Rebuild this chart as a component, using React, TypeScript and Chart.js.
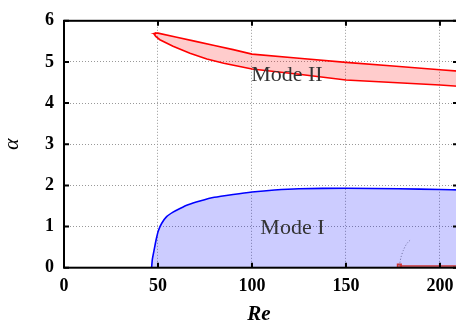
import React, { useEffect, useRef } from 'react';
import { Chart, registerables } from 'chart.js';
Chart.register(...registerables);

const X_MIN = 0;
const X_MAX = 209.6;
const Y_MIN = 0;
const Y_MAX = 6;
const xTicks = [0, 50, 100, 150, 200];
const yTicks = [0, 1, 2, 3, 4, 5, 6];

// Mode II closed boundary (upper branch left->right, lower branch right->left)
const modeIIRe = [49.0, 48.4, 50, 60, 70, 80, 90, 100, 125, 150, 175, 200, 212,
  212, 200, 175, 150, 138, 125, 100, 85, 76, 67, 58, 51, 48.8, 48.2, 48.4, 49.0];
const modeIIAlpha = [5.71, 5.70, 5.70, 5.60, 5.50, 5.40, 5.30, 5.19, 5.09, 4.99, 4.90, 4.81, 4.77,
  4.40, 4.44, 4.50, 4.56, 4.63, 4.70, 4.83, 4.97, 5.07, 5.21, 5.38, 5.54, 5.62, 5.66, 5.70, 5.71];

// Mode I neutral curve
const modeIRe = [46.6, 47.0, 47.9, 49.0, 50.2, 52, 54.6, 58, 61.7, 66, 72.3, 80, 90, 100, 112, 125, 150, 178, 200, 212];
const modeIAlpha = [0, 0.2, 0.42, 0.68, 0.9, 1.08, 1.24, 1.35, 1.44, 1.53, 1.62, 1.71, 1.78, 1.84, 1.89, 1.92, 1.93, 1.92, 1.90, 1.89];

// Orange branch along alpha ~ 0
const branchRe = [178.4, 212];
const branchAlpha = [0.04, 0.04];

// Dotted gray curve
const dottedRe = [178.4, 178.8, 179.3, 180.5, 182.3, 184.6];
const dottedAlpha = [0.05, 0.15, 0.26, 0.42, 0.58, 0.69];

const labels = [
  { text: 'Mode II', re: 118.6, alpha: 4.67 },
  { text: 'Mode I', re: 121.5, alpha: 0.96 },
];

const toPts = (xs: number[], ys: number[]) => xs.map((x, i) => ({ x, y: ys[i] }));

const framePlugin = {
  id: 'frame',
  afterDatasetsDraw(chart: any) {
    const { ctx, chartArea: a, scales } = chart;
    ctx.save();
    ctx.strokeStyle = '#000';
    ctx.lineWidth = 2;
    ctx.strokeRect(a.left, a.top, a.right - a.left, a.bottom - a.top);
    const tl = 5;
    ctx.beginPath();
    for (const v of xTicks) {
      const x = scales.x.getPixelForValue(v);
      ctx.moveTo(x, a.bottom); ctx.lineTo(x, a.bottom - tl);
      ctx.moveTo(x, a.top); ctx.lineTo(x, a.top + tl);
    }
    for (const v of yTicks) {
      const y = scales.y.getPixelForValue(v);
      ctx.moveTo(a.left, y); ctx.lineTo(a.left + tl, y);
      ctx.moveTo(a.right, y); ctx.lineTo(a.right - tl, y);
    }
    ctx.stroke();

    ctx.fillStyle = '#333';
    ctx.font = '22px "Liberation Serif"';
    ctx.textAlign = 'center';
    ctx.textBaseline = 'middle';
    for (const l of labels) {
      ctx.fillText(l.text, scales.x.getPixelForValue(l.re), scales.y.getPixelForValue(l.alpha));
    }

    ctx.fillStyle = '#000';
    ctx.font = 'italic bold 21px "Liberation Serif"';
    ctx.fillText('Re', (a.left + a.right) / 2 - 2, 315);
    ctx.save();
    ctx.translate(12, (a.top + a.bottom) / 2);
    ctx.rotate(-Math.PI / 2);
    ctx.font = 'italic 22px "Liberation Serif"';
    ctx.fillText('α', 0, 0);
    ctx.restore();
    ctx.restore();
  },
};

export default function App() {
  const ref = useRef<HTMLCanvasElement | null>(null);
  useEffect(() => {
    if (!ref.current) return;
    const tickFont = { family: '"Liberation Serif"', size: 18, weight: 'bold' as const };
    const chart = new Chart(ref.current, {
      type: 'scatter',
      data: {
        datasets: [
          {
            data: toPts(modeIIRe, modeIIAlpha),
            showLine: true,
            borderColor: '#ff0000',
            borderWidth: 1.6,
            backgroundColor: 'rgba(255,0,0,0.2)',
            fill: 'shape',
            pointRadius: 0,
            tension: 0,
          },
          {
            data: toPts(modeIRe, modeIAlpha),
            showLine: true,
            borderColor: '#0000ff',
            borderWidth: 1.6,
            backgroundColor: 'rgba(0,0,255,0.2)',
            fill: 'origin',
            pointRadius: 0,
            tension: 0.2,
          },
          {
            data: toPts(dottedRe, dottedAlpha),
            showLine: true,
            borderColor: '#888',
            borderWidth: 1,
            borderDash: [1, 2],
            fill: false,
            pointRadius: 0,
            tension: 0.3,
          },
          {
            data: toPts(branchRe, branchAlpha),
            showLine: true,
            borderColor: '#ff4000',
            borderWidth: 1.6,
            backgroundColor: 'rgba(255,64,0,0.5)',
            pointBorderColor: '#ff4000',
            fill: false,
            pointStyle: 'rect',
            pointRadius: (c: any) => (c.dataIndex === 0 ? 2.5 : 0),
          },
        ],
      },
      options: {
        animation: false,
        responsive: false,
        events: [],
        layout: { padding: { top: 14, right: 12, left: 0, bottom: 0 } },
        plugins: { legend: { display: false }, tooltip: { enabled: false } },
        scales: {
          x: {
            type: 'linear',
            min: X_MIN,
            max: X_MAX,
            afterBuildTicks: (s: any) => { s.ticks = xTicks.map((v) => ({ value: v })); },
            afterFit: (s: any) => { s.height = 58.3; },
            grid: { color: '#999', lineWidth: 1, drawTicks: false },
            border: { display: false, dash: [1, 2] },
            ticks: { font: tickFont, color: '#000', padding: 8, maxRotation: 0 },
          },
          y: {
            type: 'linear',
            min: Y_MIN,
            max: Y_MAX,
            afterBuildTicks: (s: any) => { s.ticks = yTicks.map((v) => ({ value: v })); },
            afterFit: (s: any) => { s.width = 64; },
            grid: { color: '#999', lineWidth: 1, drawTicks: false },
            border: { display: false, dash: [1, 2] },
            ticks: { font: tickFont, color: '#000', padding: 10 },
          },
        },
      },
      plugins: [framePlugin],
    });
    return () => chart.destroy();
  }, []);
  return (
    <div style={{ position: 'fixed', left: 0, top: 0, width: 456, height: 326, overflow: 'hidden', background: '#fff' }}>
      <canvas ref={ref} width={470} height={326} style={{ width: 470, height: 326, display: 'block' }} />
    </div>
  );
}
